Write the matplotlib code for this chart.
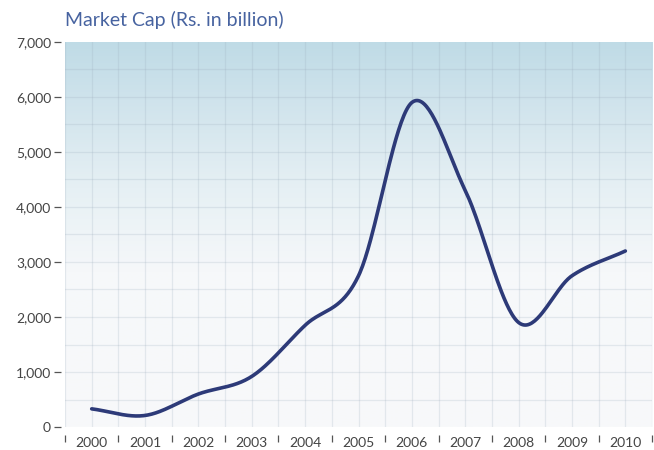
import numpy as np
import matplotlib
matplotlib.use("Agg")
import matplotlib.pyplot as plt
from matplotlib.colors import LinearSegmentedColormap

years = ["2000", "2001", "2002", "2003", "2004", "2005",
         "2006", "2007", "2008", "2009", "2010"]
market_cap = [330, 210, 600, 920, 1850, 2750, 5900, 4300, 1900, 2750, 3200]


def smooth_curve(y, n=40):
    # Catmull-Rom spline through the yearly points
    y = np.asarray(y, dtype=float)
    x = np.arange(len(y), dtype=float)
    px = np.concatenate([[2 * x[0] - x[1]], x, [2 * x[-1] - x[-2]]])
    py = np.concatenate([[2 * y[0] - y[1]], y, [2 * y[-1] - y[-2]]])
    xs, ys = [], []
    t = np.linspace(0, 1, n, endpoint=False)
    for i in range(1, len(px) - 2):
        for p, out in ((px, xs), (py, ys)):
            p0, p1, p2, p3 = p[i - 1], p[i], p[i + 1], p[i + 2]
            out.append(0.5 * ((2 * p1) + (-p0 + p2) * t
                              + (2 * p0 - 5 * p1 + 4 * p2 - p3) * t ** 2
                              + (-p0 + 3 * p1 - 3 * p2 + p3) * t ** 3))
    xs.append([x[-1]])
    ys.append([y[-1]])
    return np.concatenate(xs), np.concatenate(ys)


plt.rcParams['font.family'] = ['Lato', 'DejaVu Sans']

fig = plt.figure(figsize=(6.54, 4.5), dpi=100)
ax = fig.add_axes([0.0994, 0.0511, 0.8976, 0.8556])

# blue-to-white background
cmap = LinearSegmentedColormap.from_list(
    "bg", [(0.0, "#f8f9fa"), (0.4, "#f6f8fa"), (0.62, "#e6f0f4"),
           (0.85, "#cfe3ec"), (1.0, "#bfdbe6")])
grad = np.linspace(0, 1, 256).reshape(-1, 1)
ax.imshow(grad, aspect="auto", cmap=cmap, origin="lower",
          extent=[-0.5, 10.5, 0, 7000], zorder=0)

x_pos = np.arange(len(years))
xs, ys = smooth_curve(market_cap)
ax.plot(xs, ys, color="#2d3a78", lw=2.6, solid_capstyle="round", zorder=3)

ax.set_xlim(-0.5, 10.5)
ax.set_ylim(0, 7000)

# grid every half year and every 500
for gx in np.arange(-0.5, 10.51, 0.5):
    ax.axvline(gx, color="#9aabbb", alpha=0.22, lw=0.9, zorder=1)
for gy in np.arange(500, 7000, 500):
    ax.axhline(gy, color="#9aabbb", alpha=0.22, lw=0.9, zorder=1)

for s in ax.spines.values():
    s.set_visible(False)
ax.spines['left'].set_position(('outward', 3))
ax.spines['bottom'].set_position(('outward', 6))

ax.set_yticks(np.arange(0, 7001, 1000))
ax.set_yticklabels([f"{v:,}" for v in range(0, 7001, 1000)])
ax.tick_params(axis='y', length=5, width=0.9, color="#555555",
               labelsize=10, labelcolor="#444444", pad=2)

ax.set_xticks(x_pos)
ax.set_xticklabels(years)
ax.set_xticks(np.arange(-0.5, 10.6, 1), minor=True)
ax.tick_params(axis='x', which='major', length=0, labelsize=10,
               labelcolor="#444444", pad=1)
ax.tick_params(axis='x', which='minor', length=5, width=0.9,
               color="#555555", direction='out')

fig.text(0.0994, 1 - 26 / 450, "Market Cap (Rs. in billion)", color="#4763a0",
         fontsize=14, ha="left", va="baseline")

fig.savefig("out.png", dpi=100)
